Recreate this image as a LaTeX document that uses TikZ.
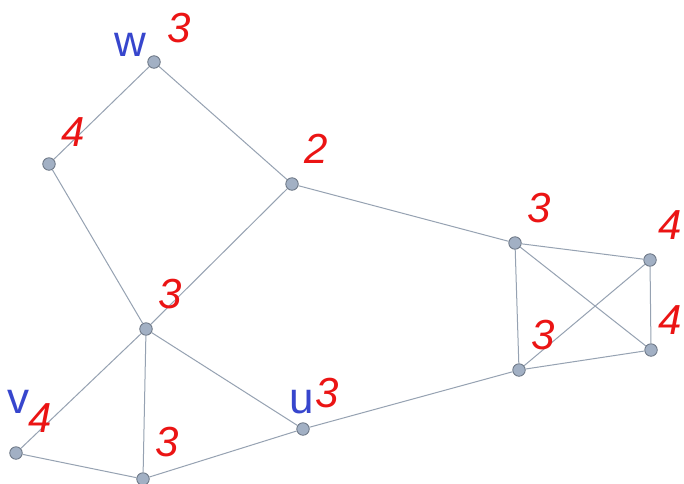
\documentclass[tikz,border=0pt]{standalone}
\usepackage{fontspec}
\setmainfont{Liberation Sans}
\usepackage{tikz}
\definecolor{edgegray}{RGB}{150,162,178}
\definecolor{vfill}{RGB}{162,176,196}
\definecolor{vdraw}{RGB}{105,115,130}
\definecolor{degred}{RGB}{235,20,20}
\definecolor{namblue}{RGB}{55,70,205}
\tikzset{
  vtx/.style={circle,fill=vfill,draw=vdraw,line width=0.8pt,minimum size=12.5pt,inner sep=0pt},
  deg/.style={inner sep=0pt,text=degred,font=\fontsize{42}{44}\selectfont\itshape},
  nam/.style={inner sep=0pt,text=namblue,font=\fontsize{44}{46}\selectfont},
  edge/.style={draw=edgegray,line width=1pt}
}
\begin{document}
\begin{tikzpicture}[x=1pt,y=-1pt]
\useasboundingbox[fill=white] (0,0) rectangle (684,483);
\node[vtx] (w) at (154,62) {};
\node[vtx] (a) at (49,164) {};
\node[vtx] (b) at (292,184) {};
\node[vtx] (c) at (146,329) {};
\node[vtx] (v) at (16,453) {};
\node[vtx] (d) at (143,479) {};
\node[vtx] (u) at (303,429) {};
\node[vtx] (e) at (515,243) {};
\node[vtx] (f) at (650,260) {};
\node[vtx] (g) at (651,350) {};
\node[vtx] (h) at (519,370) {};
\draw[edge] (w) -- (a);
\draw[edge] (w) -- (b);
\draw[edge] (a) -- (c);
\draw[edge] (b) -- (c);
\draw[edge] (b) -- (e);
\draw[edge] (c) -- (v);
\draw[edge] (c) -- (d);
\draw[edge] (c) -- (u);
\draw[edge] (v) -- (d);
\draw[edge] (d) -- (u);
\draw[edge] (u) -- (h);
\draw[edge] (e) -- (f);
\draw[edge] (e) -- (h);
\draw[edge] (e) -- (g);
\draw[edge] (f) -- (h);
\draw[edge] (f) -- (g);
\draw[edge] (g) -- (h);
% names
\node[nam] (wname) at (130,45) {w};
\node[nam] (vname) at (19,402) {v};
\node[nam] (uname) at (302,402) {u};
% degrees
\node[deg] (wdeg) at (179,28) {3};
\node[deg] (adeg) at (73,132) {4};
\node[deg] (bdeg) at (316,149) {2};
\node[deg] (cdeg) at (170,294) {3};
\node[deg] (vdeg) at (40,418) {4};
\node[deg] (ddeg) at (167,442) {3};
\node[deg] (udeg) at (327,393) {3};
\node[deg] (edeg) at (539,208) {3};
\node[deg] (fdeg) at (670,225) {4};
\node[deg] (gdeg) at (670,320) {4};
\node[deg] (hdeg) at (543,335) {3};
\end{tikzpicture}
\end{document}
